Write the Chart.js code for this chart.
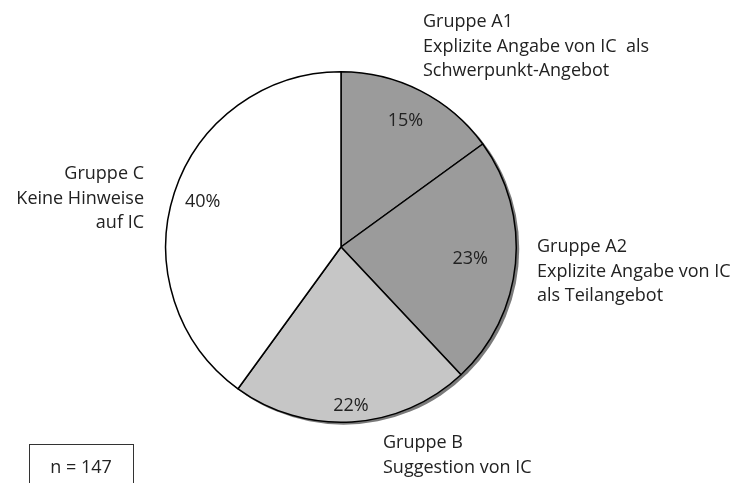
<!DOCTYPE html>
<html>
<head>
<meta charset="utf-8">
<script src="https://cdn.jsdelivr.net/npm/chart.js@4"></script>
<style>
  html, body { margin: 0; padding: 0; background: #fff; }
  #wrap { position: relative; width: 745px; height: 483px; }
</style>
</head>
<body>
<div id="wrap"><canvas id="chartPie" width="745" height="483"></canvas></div>
<script>
// Daten
const gruppen = ['Gruppe A1', 'Gruppe A2', 'Gruppe B', 'Gruppe C'];
const anteile = [15, 23, 22, 40];
const farben = ['#9b9b9b', '#9b9b9b', '#c6c6c6', '#ffffff'];
const beschriftungen = [
  ['Gruppe A1', 'Explizite Angabe von IC  als', 'Schwerpunkt-Angebot'],
  ['Gruppe A2', 'Explizite Angabe von IC', 'als Teilangebot'],
  ['Gruppe B', 'Suggestion von IC'],
  ['Gruppe C', 'Keine Hinweise', 'auf IC']
];
const stichprobe = 'n = 147';

const schrift = '18px "Open Sans", "Noto Sans", sans-serif';

// Positionen der Texte außerhalb des Kreises (Grundlinie der ersten Zeile)
const textPos = [
  { x: 423, y: 27, align: 'left' },
  { x: 537, y: 252, align: 'left' },
  { x: 383, y: 448, align: 'left' },
  { x: 144, y: 179, align: 'right' }
];
const zeilenAbstand = 24.5;
// Radius-Faktor der Prozentwerte
const prozentRadius = [0.81, 0.74, 0.91, 0.83];

// Schatten hinter dem Kreis
const schattenPlugin = {
  id: 'schatten',
  beforeDatasetsDraw(chart) {
    const arc = chart.getDatasetMeta(0).data[0];
    if (!arc) return;
    const ctx = chart.ctx;
    ctx.save();
    ctx.beginPath();
    ctx.arc(arc.x + 2.5, arc.y + 2, arc.outerRadius + 0.5, 0, Math.PI * 2);
    ctx.fillStyle = '#7a7a7a';
    ctx.fill();
    ctx.restore();
  }
};

// Texte
const textPlugin = {
  id: 'texte',
  afterDatasetsDraw(chart) {
    const ctx = chart.ctx;
    const meta = chart.getDatasetMeta(0);
    ctx.save();
    ctx.font = schrift;
    ctx.fillStyle = '#222';
    meta.data.forEach((arc, i) => {
      const mitte = (arc.startAngle + arc.endAngle) / 2;
      const r = arc.outerRadius * prozentRadius[i];
      ctx.textAlign = 'center';
      ctx.textBaseline = 'middle';
      ctx.fillText(anteile[i] + '%', arc.x + Math.cos(mitte) * r, arc.y + Math.sin(mitte) * r);
      const p = textPos[i];
      ctx.textAlign = p.align;
      ctx.textBaseline = 'alphabetic';
      beschriftungen[i].forEach((zeile, j) => {
        ctx.fillText(zeile, p.x, p.y + j * zeilenAbstand);
      });
    });
    // n-Kasten
    ctx.strokeStyle = '#333';
    ctx.lineWidth = 1;
    ctx.strokeRect(29.5, 444.5, 104, 42);
    ctx.textAlign = 'center';
    ctx.textBaseline = 'alphabetic';
    ctx.fillText(stichprobe, 81, 473);
    ctx.restore();
  }
};

new Chart(document.getElementById('chartPie'), {
  type: 'pie',
  data: {
    labels: gruppen,
    datasets: [{
      data: anteile,
      backgroundColor: farben,
      borderColor: '#000',
      borderWidth: 1.5
    }]
  },
  options: {
    responsive: false,
    animation: false,
    layout: { padding: { left: 165, right: 228, top: 71, bottom: 60 } },
    plugins: {
      legend: { display: false },
      tooltip: { enabled: false }
    }
  },
  plugins: [schattenPlugin, textPlugin]
});
</script>
</body>
</html>
